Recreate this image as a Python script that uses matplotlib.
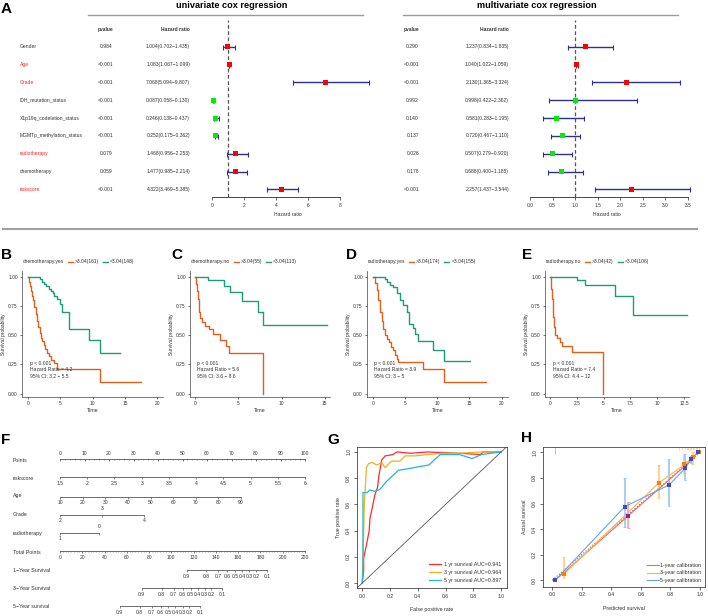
import numpy as np
import matplotlib
matplotlib.use('Agg')
import matplotlib.pyplot as plt
from matplotlib.lines import Line2D
from matplotlib import transforms

plt.rcParams['font.family'] = ['Liberation Sans', 'DejaVu Sans']

W, H = 708, 616

# ---------------- data: panel A (cox regression)
variables = ['Gender', 'Age', 'Grade', 'IDH_mutation_status', 'X1p19q_codeletion_status',
             'MGMTp_methylation_status', 'radiotherapy', 'chemotherapy', 'riskscore']
red_vars = ['Age', 'Grade', 'radiotherapy', 'riskscore']

uni_p = ['0.984', '<0.001', '<0.001', '<0.001', '<0.001', '<0.001', '0.079', '0.059', '<0.001']
uni_hr = [1.004, 1.083, 7.068, 0.087, 0.246, 0.252, 1.468, 1.477, 4.322]
uni_lo = [0.702, 1.067, 5.094, 0.058, 0.138, 0.175, 0.956, 0.985, 3.469]
uni_hi = [1.435, 1.099, 9.807, 0.130, 0.437, 0.362, 2.253, 2.214, 5.385]

multi_p = ['0.290', '<0.001', '<0.001', '0.992', '0.140', '0.137', '0.026', '0.178', '<0.001']
multi_hr = [1.237, 1.040, 2.130, 0.998, 0.581, 0.720, 0.507, 0.688, 2.257]
multi_lo = [0.834, 1.022, 1.365, 0.422, 0.283, 0.467, 0.279, 0.400, 1.437]
multi_hi = [1.835, 1.059, 3.324, 2.362, 1.195, 1.110, 0.920, 1.185, 3.544]

# ---------------- data: panels B-E (Kaplan-Meier)
b_high_t = [0, 0.15, 0.3, 0.45, 0.6, 0.8, 1.0, 1.2, 1.4, 1.6, 1.8, 2.0, 2.2, 2.45, 2.7, 3.0, 3.3, 3.6, 4.0, 4.5, 11.1, 17.5]
b_high_s = [1.0, 0.96, 0.92, 0.88, 0.84, 0.80, 0.74, 0.68, 0.62, 0.57, 0.52, 0.48, 0.45, 0.42, 0.38, 0.35, 0.32, 0.29, 0.26, 0.21, 0.10, 0.10]
b_low_t = [0, 1.8, 2.1, 2.4, 2.8, 3.2, 3.5, 3.8, 4.1, 4.5, 4.9, 5.3, 6.3, 9.5, 11.1, 14.3]
b_low_s = [1.0, 0.98, 0.96, 0.94, 0.92, 0.90, 0.88, 0.86, 0.84, 0.81, 0.77, 0.70, 0.55, 0.46, 0.345, 0.345]

c_high_t = [0, 0.1, 0.2, 0.3, 0.4, 0.5, 0.6, 0.8, 1.1, 1.6, 2.1, 2.9, 3.6, 3.9, 7.8]
c_high_s = [1.0, 0.94, 0.88, 0.81, 0.75, 0.70, 0.65, 0.61, 0.58, 0.55, 0.51, 0.46, 0.41, 0.35, 0.0]
c_low_t = [0, 1.55, 3.3, 4.0, 5.45, 7.3, 7.85, 15.2]
c_low_s = [1.0, 0.975, 0.925, 0.87, 0.79, 0.70, 0.585, 0.585]

d_high_t = [0, 0.3, 0.6, 0.9, 1.15, 1.4, 1.65, 1.9, 2.2, 2.5, 2.8, 3.1, 3.45, 3.75, 4.0, 7.85, 11.1, 17.5]
d_high_s = [1.0, 0.95, 0.89, 0.80, 0.70, 0.62, 0.55, 0.50, 0.47, 0.44, 0.40, 0.37, 0.33, 0.30, 0.27, 0.21, 0.095, 0.095]
d_low_t = [0, 1.9, 2.2, 2.7, 3.2, 3.7, 4.2, 4.75, 5.3, 5.6, 6.3, 6.6, 7.1, 9.4, 11.1, 15.1]
d_low_s = [1.0, 0.98, 0.96, 0.93, 0.91, 0.86, 0.80, 0.76, 0.70, 0.60, 0.56, 0.51, 0.45, 0.375, 0.28, 0.28]

e_high_t = [0, 0.08, 0.16, 0.24, 0.31, 0.37, 0.47, 0.68, 0.93, 1.09, 2.02, 4.97]
e_high_s = [1.0, 0.90, 0.81, 0.73, 0.66, 0.57, 0.50, 0.475, 0.44, 0.41, 0.36, 0.0]
e_low_t = [0, 2.5, 3.26, 6.06, 7.7, 12.8]
e_low_s = [1.0, 0.97, 0.93, 0.835, 0.67, 0.67]

km_titles = ['chemotherapy.yes', 'chemotherapy.no', 'radiotherapy.yes', 'radiotherapy.no']
km_high_lab = ['>3.04(161)', '>3.04(55)', '>3.04(174)', '>3.04(42)']
km_low_lab = ['<3.04(148)', '<3.04(113)', '<3.04(155)', '<3.04(106)']
km_hr = ['4.2', '5.6', '3.9', '7.4']
km_ci = ['3.2 \u2212 5.5', '3.6 \u2212 8.6', '3 \u2212 5', '4.4 \u2212 12']

# ---------------- data: panel F (nomogram)
riskscore_vals = [1.5, 2, 2.5, 3, 3.5, 4, 4.5, 5, 5.5, 6]
age_vals = [10, 20, 30, 40, 50, 60, 70, 80, 90]
age_pts_per_year = 73.9 / 80
grade_vals = ['2', '3', '4']
grade_pts = [0, 17.1, 34.3]
radio_vals = ['1', '0']
radio_pts = [0, 15.9]
total_ticks = list(range(0, 221, 20))
surv_labels = ['0.9', '0.8', '0.7', '0.6', '0.5', '0.4', '0.3', '0.2', '0.1']
surv1_tp = [113.6, 131.5, 142.2, 150.3, 157.4, 163.7, 170.0, 176.2, 186.0]
surv3_tp = [73.4, 91.3, 102.0, 110.1, 117.2, 123.5, 129.8, 136.0, 145.8]
surv5_tp = [53.6, 71.5, 82.2, 90.3, 97.4, 103.7, 110.0, 116.2, 126.0]

# ---------------- data: panel G (ROC)
roc1_fpr = [0, 0.01, 0.01, 0.03, 0.05, 0.055, 0.075, 0.09, 0.11, 0.12, 0.14, 0.165, 0.22, 0.25, 0.35, 0.47, 0.70, 0.85, 0.87, 1.0]
roc1_tpr = [0, 0.09, 0.19, 0.29, 0.40, 0.49, 0.59, 0.67, 0.73, 0.82, 0.94, 0.97, 0.98, 1.0, 0.99, 1.0, 0.99, 0.98, 1.0, 1.0]
roc3_fpr = [0, 0.01, 0.015, 0.03, 0.045, 0.07, 0.105, 0.14, 0.165, 0.21, 0.27, 0.31, 0.38, 0.47, 0.57, 0.70, 0.85, 1.0]
roc3_tpr = [0, 0.38, 0.60, 0.88, 0.91, 0.92, 0.90, 0.92, 0.88, 0.93, 0.93, 0.97, 0.97, 0.98, 0.99, 0.99, 1.0, 1.0]
roc5_fpr = [0, 0.005, 0.005, 0.035, 0.055, 0.09, 0.12, 0.14, 0.17, 0.23, 0.26, 0.32, 0.37, 0.42, 0.48, 0.56, 0.70, 0.79, 0.86, 1.0]
roc5_tpr = [0, 0.09, 0.69, 0.69, 0.71, 0.70, 0.71, 0.73, 0.77, 0.83, 0.86, 0.87, 0.88, 0.89, 0.90, 0.98, 0.98, 0.95, 0.98, 1.0]
roc_labels = ['1 yr survival AUC=0.941', '3 yr survival AUC=0.964', '5 yr survival AUC=0.897']

# ---------------- data: panel H (calibration)
cal1_pred = [0.02, 0.515, 0.90, 0.94, 0.985]
cal1_act = [0.0, 0.505, 0.895, 0.945, 1.0]
cal1_lo = [0.0, 0.41, 0.86, 0.92, 1.0]
cal1_hi = [0.0, 0.615, 0.93, 0.97, 1.0]
cal3_pred = [0.08, 0.72, 0.895, 0.95, 0.99]
cal3_act = [0.05, 0.76, 0.905, 0.96, 1.0]
cal3_lo = [0.015, 0.64, 0.84, 0.91, 1.0]
cal3_hi = [0.185, 0.90, 0.99, 1.0, 1.0]
cal5_pred = [0.02, 0.49, 0.79, 0.90, 0.94, 0.985]
cal5_act = [0.0, 0.575, 0.745, 0.875, 0.945, 1.0]
cal5_lo = [0.0, 0.415, 0.58, 0.78, 0.92, 1.0]
cal5_hi = [0.0, 0.80, 0.95, 0.99, 0.97, 1.0]
cal_labels = ['1-year calibration', '3-year calibration', '5-year calibration']
rug_pred = [0.86, 0.88, 0.9, 0.91, 0.92, 0.93, 0.94, 0.95, 0.96, 0.97, 0.98, 0.99]


fig = plt.figure(figsize=(W / 100, H / 100), dpi=100)


def rect(x0, y0, x1, y1):
    return [x0 / W, 1 - y1 / H, (x1 - x0) / W, (y1 - y0) / H]


def letter(x, y, s):
    fig.text(x / W, 1 - y / H, s, fontsize=11, fontweight='bold', va='top', ha='left')


TXT = '#333333'

# ================= Panel A
letter(1, 2, 'A')


def forest(x0, x1, xlim, ticks, ticklabels, hr, lo, hi, pvals, p_x, hr_x, names_x,
           title, title_x, line_x, xlabel_x):
    ax = fig.add_axes(rect(x0, 20, x1, 197))
    ax.set_xlim(xlim)
    ax.set_ylim(8.43, -1.5)
    rows = np.arange(len(hr))
    hr = np.array(hr)
    ax.axvline(1, ls=(0, (3, 2)), color='#555555', lw=0.9, zorder=1)
    ax.errorbar(hr, rows, xerr=[hr - np.array(lo), np.array(hi) - hr], fmt='none',
                ecolor='#2E3192', elinewidth=1.0, capsize=1.8, capthick=0.8, zorder=2)
    cols = ['#FF0000' if v > 1 else '#00EE00' for v in hr]
    ax.scatter(hr, rows, marker='s', s=13, c=cols, zorder=3, linewidths=0)
    for sp in ['top', 'right', 'left']:
        ax.spines[sp].set_visible(False)
    ax.spines['bottom'].set_bounds(ticks[0], ticks[-1])
    ax.spines['bottom'].set_linewidth(0.5)
    ax.set_yticks([])
    ax.set_xticks(ticks)
    ax.set_xticklabels(ticklabels)
    ax.tick_params(axis='x', labelsize=3.5, length=2, width=0.5, pad=2, colors=TXT)
    ax.patch.set_alpha(0)
    tr = transforms.blended_transform_factory(fig.transFigure, ax.transData)
    if names_x is not None:
        for i, v in enumerate(variables):
            ax.text(names_x / W, i, v, transform=tr, fontsize=3.6, va='center', ha='left',
                    color='#FF2020' if v in red_vars else TXT)
    ax.text(p_x / W, -0.95, 'pvalue', transform=tr, fontsize=3.5, fontweight='bold',
            va='center', ha='right', color=TXT)
    ax.text(hr_x / W, -0.95, 'Hazard ratio', transform=tr, fontsize=3.5, fontweight='bold',
            va='center', ha='right', color=TXT)
    for i in rows:
        ax.text(p_x / W, i, pvals[i], transform=tr, fontsize=3.6, va='center', ha='right', color=TXT)
        ax.text(hr_x / W, i, '%.3f(%.3f\u2212%.3f)' % (hr[i], lo[i], hi[i]), transform=tr,
                fontsize=3.6, va='center', ha='right', color=TXT)
    fig.text(xlabel_x / W, 1 - 214 / H, 'Hazard ratio', fontsize=3.6, ha='center', va='center', color=TXT)
    fig.text(title_x / W, 1 - 6 / H, title, fontsize=6.6, fontweight='bold', ha='center', va='center')
    fig.add_artist(Line2D([line_x[0] / W, line_x[1] / W], [1 - 15 / H] * 2, color='#9a9a9a', lw=1.0))


forest(200, 372, ((200 - 211.7) / 16.04, (372 - 211.7) / 16.04), [0, 2, 4, 6, 8],
       ['0', '2', '4', '6', '8'], uni_hr, uni_lo, uni_hi, uni_p, 113, 190, 20,
       'univariate cox regression', 232, (88, 363), 288)
forest(520, 700, ((520 - 530) / 45.14, (700 - 530) / 45.14), [0, 0.5, 1, 1.5, 2, 2.5, 3, 3.5],
       ['0.0', '0.5', '1.0', '1.5', '2.0', '2.5', '3.0', '3.5'], multi_hr, multi_lo, multi_hi,
       multi_p, 419, 509, None, 'multivariate cox regression', 537, (403, 678), 607)

fig.add_artist(Line2D([3 / W, 697 / W], [1 - 229 / H] * 2, color='#a0a0a0', lw=1.5))

# ================= Panels B-E
ORANGE = '#E0601A'
GREEN = '#1B9E77'
km_boxes = [(22, 163, (-0.93, 20.9), [0, 5, 10, 15, 20], ['0', '5', '10', '15', '20'], 0.3),
            (190, 330, (-0.585, 15.6), [0, 5, 10, 15], ['0', '5', '10', '15'], 0.2),
            (367, 508, (-0.88, 20.98), [0, 5, 10, 15, 20], ['0', '5', '10', '15', '20'], 0.25),
            (545, 689, (-0.47, 12.97), [0, 2.5, 5, 7.5, 10, 12.5], ['0', '2.5', '5', '7.5', '10', '12.5'], 0.3)]
km_curves = [(b_high_t, b_high_s, b_low_t, b_low_s),
             (c_high_t, c_high_s, c_low_t, c_low_s),
             (d_high_t, d_high_s, d_low_t, d_low_s),
             (e_high_t, e_high_s, e_low_t, e_low_s)]
km_letters = [('B', 1), ('C', 171), ('D', 346), ('E', 522)]

for k in range(4):
    x0, x1, xl, xt, xtl, txt_x = km_boxes[k]
    ht, hs, lt, ls_ = km_curves[k]
    letter(km_letters[k][1], 248, km_letters[k][0])
    ax = fig.add_axes(rect(x0, 271, x1, 397))
    ax.step(ht, hs, where='post', color=ORANGE, lw=1.0)
    ax.step(lt, ls_, where='post', color=GREEN, lw=1.0)
    ax.set_xlim(xl)
    ax.set_ylim(-0.03, 1.05)
    ax.set_xticks(xt)
    ax.set_xticklabels(xtl)
    ax.set_yticks([0, 0.25, 0.5, 0.75, 1.0])
    ax.set_yticklabels(['0.00', '0.25', '0.50', '0.75', '1.00'])
    for sp in ['top', 'right']:
        ax.spines[sp].set_visible(False)
    for sp in ['left', 'bottom']:
        ax.spines[sp].set_linewidth(0.5)
        ax.spines[sp].set_color('#444444')
    ax.tick_params(labelsize=3.5, length=1.5, width=0.5, pad=1.5, colors=TXT)
    ax.set_xlabel('Time', fontsize=3.8, labelpad=1, color=TXT)
    ax.set_ylabel('Survival probability', fontsize=3.5, labelpad=1.5, color=TXT)
    ax.text(txt_x, 0.255, 'p < 0.001', fontsize=3.6, va='center', color=TXT)
    ax.text(txt_x, 0.205, 'Hazard Ratio = ' + km_hr[k], fontsize=3.6, va='center', color=TXT)
    ax.text(txt_x, 0.15, '95% CI: ' + km_ci[k], fontsize=3.6, va='center', color=TXT)
    handles = [Line2D([], [], lw=0), Line2D([], [], color=ORANGE, lw=1), Line2D([], [], color=GREEN, lw=1)]
    fig.legend(handles, [km_titles[k], km_high_lab[k], km_low_lab[k]], ncol=3, frameon=False,
               fontsize=3.6, handlelength=1.0, handletextpad=0.4, columnspacing=0.8,
               loc='center left', bbox_to_anchor=((x0 - 9) / W, 1 - 262 / H), borderpad=0,
               labelcolor=TXT)

# ================= Panel F (nomogram)
letter(1, 433, 'F')
axf = fig.add_axes(rect(0, 440, 330, 616))
axf.set_xlim((0 - 60) / 2.45, (330 - 60) / 2.45)
axf.set_ylim(616, 440)
axf.axis('off')
LC = '#555555'


def nomo_row(y, pts, labels, sides, minor=None, label=None, label_y=None):
    axf.plot([min(pts), max(pts)], [y, y], color=LC, lw=0.6)
    axf.vlines(pts, y, y + 2, color=LC, lw=0.5)
    if minor is not None:
        axf.vlines(minor, y, y + 1.2, color=LC, lw=0.4)
    for p, lab, sd in zip(pts, labels, sides):
        axf.text(p, y + 6.5 if sd == 'b' else y - 5.5, lab, fontsize=3.6, ha='center', va='center', color=TXT)
    if label is not None:
        axf.text((13 - 60) / 2.45, label_y, label, fontsize=3.8, ha='left', va='center', color=TXT)


pts_major = np.arange(0, 101, 10)
nomo_row(459, pts_major, [str(v) for v in pts_major], ['a'] * 11, minor=np.arange(0, 101, 2),
         label='Points', label_y=460)
rs_pts = (np.array(riskscore_vals) - 1.5) / 4.5 * 100
nomo_row(477, rs_pts, [('%g' % v) for v in riskscore_vals], ['b'] * 10, label='riskscore', label_y=478)
age_pts = (np.array(age_vals) - 10) * age_pts_per_year
nomo_row(496.5, age_pts, [str(v) for v in age_vals], ['b'] * 9, label='Age', label_y=496)
nomo_row(514.5, grade_pts, grade_vals, ['b', 'a', 'b'], label='Grade', label_y=515)
nomo_row(532.5, radio_pts, radio_vals, ['b', 'a'], label='radiotherapy', label_y=533)
tp_scale = 100 / 220
nomo_row(551, np.array(total_ticks) * tp_scale, [str(v) for v in total_ticks], ['b'] * len(total_ticks),
         minor=np.arange(0, 221, 2.5) * tp_scale, label='Total Points', label_y=552)
nomo_row(570, np.array(surv1_tp) * tp_scale, surv_labels, ['b'] * 9, label='1\u2212Year Survival', label_y=571)
nomo_row(588, np.array(surv3_tp) * tp_scale, surv_labels, ['b'] * 9, label='3\u2212Year Survival', label_y=589)
nomo_row(606, np.array(surv5_tp) * tp_scale, surv_labels, ['b'] * 9, label='5\u2212Year survival', label_y=607)

# ================= Panel G (ROC)
letter(327, 433, 'G')
axg = fig.add_axes(rect(356.7, 446.7, 506.7, 588.3))
axg.plot(roc1_fpr, roc1_tpr, color='#FF2A2A', lw=0.9, label=roc_labels[0])
axg.plot(roc3_fpr, roc3_tpr, color='#F2B01E', lw=0.9, label=roc_labels[1])
axg.plot(roc5_fpr, roc5_tpr, color='#1FBCCB', lw=0.9, label=roc_labels[2])
axg.axline((0, 0), (1, 1), color='#555555', lw=0.6)
axg.set_xlim(-0.04, 1.04)
axg.set_ylim(-0.04, 1.04)
ticks = [0, 0.2, 0.4, 0.6, 0.8, 1.0]
axg.set_xticks(ticks)
axg.set_yticks(ticks)
axg.set_xticklabels(['%.1f' % t for t in ticks])
axg.set_yticklabels(['%.1f' % t for t in ticks], rotation=90, va='center')
axg.tick_params(labelsize=3.6, length=2, width=0.5, pad=2, colors=TXT)
for sp in axg.spines.values():
    sp.set_linewidth(0.6)
    sp.set_color('#444444')
axg.set_xlabel('False positive rate', fontsize=3.8, labelpad=6, color=TXT)
axg.set_ylabel('True positive rate', fontsize=3.8, labelpad=4, color=TXT)
axg.legend(loc='lower right', frameon=False, fontsize=3.8, handlelength=2.2, handletextpad=0.6,
           labelspacing=0.6, borderaxespad=0.6, labelcolor=TXT)

# ================= Panel H (calibration)
letter(521, 431, 'H')
axh = fig.add_axes(rect(542.7, 446.7, 705, 586.7))
cal_sets = [(cal1_pred, cal1_act, cal1_lo, cal1_hi, '#F46A5E', '#FF9E96', '#7A2E9C'),
            (cal3_pred, cal3_act, cal3_lo, cal3_hi, '#FFB347', '#FFC980', '#FF7F00'),
            (cal5_pred, cal5_act, cal5_lo, cal5_hi, '#5FA8F0', '#92C8F5', '#4848C0')]
axh.plot([0, 1], [0, 1], ls=':', color='#7755BB', lw=0.8)
for (pr, ac, lo, hi, lc, ec, mc), lab in zip(cal_sets, cal_labels):
    axh.vlines(pr, lo, hi, color=ec, lw=1.2, zorder=2)
    axh.hlines(lo, np.array(pr) - 0.008, np.array(pr) + 0.008, color=ec, lw=0.7)
    axh.hlines(hi, np.array(pr) - 0.008, np.array(pr) + 0.008, color=ec, lw=0.7)
    axh.plot(pr, ac, color=lc, lw=0.8, label=lab, zorder=3)
    axh.scatter(pr, ac, marker='s', s=6, color=mc, zorder=4, linewidths=0)
axh.vlines(rug_pred, 1.02, 1.044, color='#FFC27A', lw=0.5)
axh.vlines([0.02], 0.99, 1.044, color='#92C8F5', lw=0.7)
axh.set_xlim(-0.065, 1.034)
axh.set_ylim(-0.05, 1.044)
axh.set_xticks(ticks)
axh.set_yticks(ticks)
axh.set_xticklabels(['%.1f' % t for t in ticks])
axh.set_yticklabels(['%.1f' % t for t in ticks], rotation=90, va='center')
axh.tick_params(labelsize=3.6, length=2, width=0.5, pad=2, colors=TXT)
for sp in axh.spines.values():
    sp.set_linewidth(0.6)
    sp.set_color('#444444')
axh.set_xlabel('Predicted survival', fontsize=3.8, labelpad=6, color=TXT)
axh.set_ylabel('Actual survival', fontsize=3.8, labelpad=4, color=TXT)
axh.legend(loc='lower right', frameon=False, fontsize=3.8, handlelength=2.2, handletextpad=0.3,
           labelspacing=0.5, borderaxespad=0.3, labelcolor=TXT)

fig.savefig('out.png', dpi=100)
